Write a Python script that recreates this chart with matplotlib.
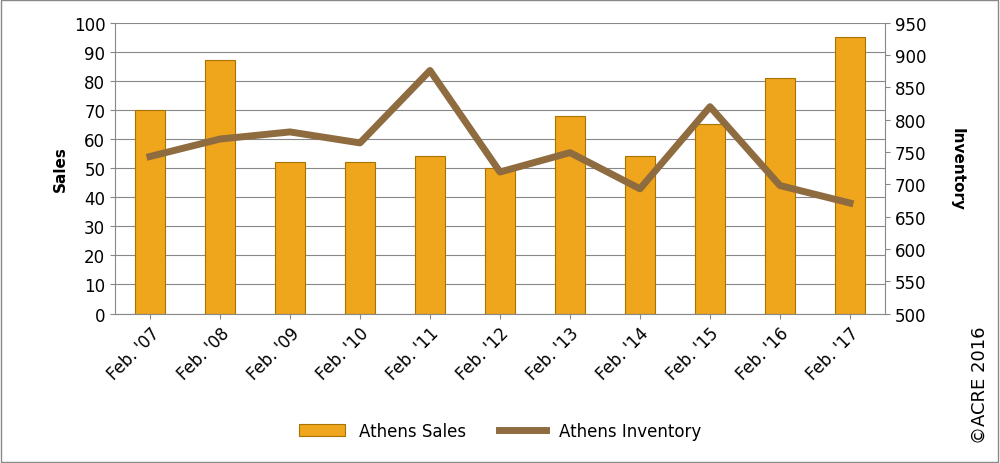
import matplotlib.pyplot as plt
import numpy as np

years = ["Feb. '07", "Feb. '08", "Feb. '09", "Feb. '10", "Feb. '11", "Feb. '12",
         "Feb. '13", "Feb. '14", "Feb. '15", "Feb. '16", "Feb. '17"]
sales = [70, 87, 52, 52, 54, 50, 68, 54, 65, 81, 95]
inventory = [743, 770, 781, 764, 876, 719, 749, 693, 820, 698, 671]

fig = plt.figure(figsize=(10, 4.64), dpi=100)
ax = fig.add_axes([0.115, 0.322, 0.77, 0.627])
x = np.arange(len(years))

bars = ax.bar(x, sales, width=0.42, color="#EFA51C", edgecolor="#A87400", linewidth=0.8,
              label="Athens Sales", zorder=2)
ax.set_ylim(0, 100)
ax.set_yticks(range(0, 101, 10))
ax.set_xlim(-0.5, len(years) - 0.5)
ax.set_xticks(x)
ax.set_xticklabels(years, rotation=45, ha="right", rotation_mode="anchor")
ax.set_ylabel("Sales", fontweight="bold", fontsize=11)
ax.grid(axis="y", color="#888888", linewidth=0.8, zorder=0)
for s in ["top", "right"]:
    ax.spines[s].set_visible(False)
ax.spines["left"].set_color("#888888")
ax.spines["bottom"].set_color("#888888")
ax.tick_params(labelsize=12, color="#888888")

ax2 = ax.twinx()
line, = ax2.plot(x, inventory, color="#8F6B40", linewidth=5, label="Athens Inventory", zorder=3)
ax2.set_ylim(500, 950)
ax2.set_yticks(range(500, 951, 50))
ax2.set_ylabel("Inventory", fontweight="bold", fontsize=11, rotation=-90, labelpad=28)
for s in ["top", "left"]:
    ax2.spines[s].set_visible(False)
ax2.spines["right"].set_color("#888888")
ax2.spines["bottom"].set_visible(False)
ax2.tick_params(labelsize=12, color="#888888")

fig.legend([bars, line], ["Athens Sales", "Athens Inventory"], loc="center",
           bbox_to_anchor=(0.5, 0.07), ncol=2, frameon=False, fontsize=12,
           handlelength=2.8)
fig.text(0.98, 0.17, "©ACRE 2016", rotation=90, ha="center", va="center", fontsize=13)
fig.patches.append(plt.Rectangle((0.001, 0.002), 0.997, 0.995, transform=fig.transFigure,
                                 fill=False, edgecolor="#888888", linewidth=1))
fig.savefig("out.png", dpi=100)
